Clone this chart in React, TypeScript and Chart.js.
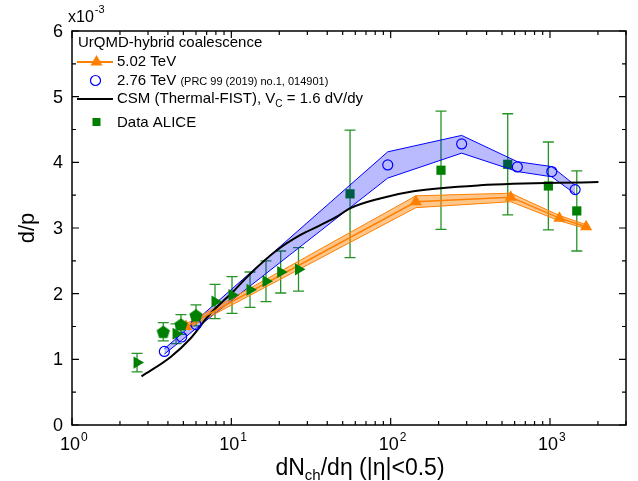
import React, { useEffect, useRef } from 'react';
import { Chart, registerables } from 'chart.js';

Chart.register(...registerables);

const FONT = '"Liberation Sans", Arial, Helvetica, sans-serif';

// ---- ALICE data ----
const ppX = [2.56, 4.5, 7.9, 10.1, 13.1, 16.5, 20.4, 26.4];
const ppY = [0.95, 1.39, 1.88, 1.98, 2.06, 2.19, 2.33, 2.37];
const ppErr = [0.14, 0.15, 0.26, 0.28, 0.27, 0.31, 0.32, 0.33];

const pPbX = [3.74, 4.83, 6.0];
const pPbY = [1.42, 1.53, 1.67];
const pPbErr = [0.14, 0.15, 0.16];

const PbPbX = [55.6, 207, 543, 977, 1473];
const PbPbY = [3.52, 3.88, 3.97, 3.64, 3.26];
const PbPbErr = [0.97, 0.9, 0.77, 0.67, 0.61];

// ---- UrQMD-hybrid coalescence 5.02 TeV ----
const u502X = [5.2, 144, 567, 1146, 1686];
const u502Y = [1.5, 3.4, 3.47, 3.15, 3.02];
const u502Lo = [1.46, 3.31, 3.4, 3.11, 2.99];
const u502Hi = [1.54, 3.49, 3.53, 3.19, 3.05];

// ---- UrQMD-hybrid coalescence 2.76 TeV ----
const u276X = [3.8, 4.88, 6.0, 95.9, 279, 624, 1026, 1438];
const u276Y = [1.12, 1.34, 1.53, 3.96, 4.28, 3.93, 3.86, 3.585];
const u276Lo = [1.08, 1.29, 1.47, 3.76, 4.14, 3.86, 3.78, 3.52];
const u276Hi = [1.16, 1.39, 1.59, 4.16, 4.41, 4.01, 3.935, 3.65];

// ---- CSM (Thermal-FIST) ----
const csmX = [2.73, 4.18, 5.5, 7.35, 10.25, 13.1, 19.3, 27, 36, 45, 55.6, 85.8, 139, 364, 2014];
const csmY = [0.74, 1.04, 1.31, 1.69, 2.03, 2.3, 2.66, 2.89, 3.04, 3.16, 3.3, 3.45, 3.56, 3.65, 3.7];

// ---- axes ----
const yTickValues = [0, 1, 2, 3, 4, 5, 6];
const xDecades = [0, 1, 2, 3];

const GREEN = 'rgb(0,128,0)';
const ORANGE = 'rgb(255,128,0)';
const BLUE = 'rgb(0,0,255)';

const pts = (xs: number[], ys: number[]) => xs.map((x, i) => ({ x, y: ys[i] }));

function makePentagon(r: number, color: string) {
  const size = Math.ceil(r * 2 + 2);
  const c = document.createElement('canvas');
  c.width = size;
  c.height = size;
  const g = c.getContext('2d')!;
  g.fillStyle = color;
  g.beginPath();
  for (let i = 0; i < 5; i++) {
    const a = -Math.PI / 2 + (i * 2 * Math.PI) / 5;
    const px = size / 2 + r * Math.cos(a);
    const py = size / 2 + r * Math.sin(a) + r * 0.1;
    if (i === 0) g.moveTo(px, py);
    else g.lineTo(px, py);
  }
  g.closePath();
  g.fill();
  return c;
}

function drawTriangle(ctx: CanvasRenderingContext2D, x: number, y: number, r: number, rotDeg: number) {
  let rad = (rotDeg * Math.PI) / 180;
  ctx.beginPath();
  for (let i = 0; i < 3; i++) {
    const px = x + Math.sin(rad) * r;
    const py = y - Math.cos(rad) * r;
    if (i === 0) ctx.moveTo(px, py);
    else ctx.lineTo(px, py);
    rad += (2 * Math.PI) / 3;
  }
  ctx.closePath();
  ctx.fill();
}

const errorBarPlugin = {
  id: 'errorBars',
  beforeDatasetsDraw(chart: any) {
    const ctx: CanvasRenderingContext2D = chart.ctx;
    const xs = chart.scales.x;
    const ys = chart.scales.y;
    ctx.save();
    ctx.strokeStyle = 'rgba(0,128,0,0.85)';
    ctx.lineWidth = 1.3;
    const groups: [number[], number[], number[]][] = [
      [ppX, ppY, ppErr],
      [pPbX, pPbY, pPbErr],
      [PbPbX, PbPbY, PbPbErr],
    ];
    const cap = 5.5;
    groups.forEach(([gx, gy, ge]) => {
      gx.forEach((xv, i) => {
        const px = xs.getPixelForValue(xv);
        const y1 = ys.getPixelForValue(gy[i] + ge[i]);
        const y2 = ys.getPixelForValue(gy[i] - ge[i]);
        ctx.beginPath();
        ctx.moveTo(px, y1);
        ctx.lineTo(px, y2);
        ctx.moveTo(px - cap, y1);
        ctx.lineTo(px + cap, y1);
        ctx.moveTo(px - cap, y2);
        ctx.lineTo(px + cap, y2);
        ctx.stroke();
      });
    });
    ctx.restore();
  },
};

const decorPlugin = {
  id: 'decor',
  afterDraw(chart: any) {
    const ctx: CanvasRenderingContext2D = chart.ctx;
    const xs = chart.scales.x;
    const ys = chart.scales.y;
    const { left, right, top, bottom } = chart.chartArea;
    ctx.save();

    // frame
    ctx.strokeStyle = '#000';
    ctx.lineWidth = 1.5;
    ctx.strokeRect(left, top, right - left, bottom - top);

    // ticks
    ctx.lineWidth = 1.2;
    ctx.beginPath();
    xDecades.forEach((d) => {
      for (let m = 1; m <= 9; m++) {
        const v = m * Math.pow(10, d);
        if (v > 3000) break;
        const px = xs.getPixelForValue(v);
        const len = m === 1 ? 7 : 4;
        ctx.moveTo(px, bottom);
        ctx.lineTo(px, bottom - len);
        ctx.moveTo(px, top);
        ctx.lineTo(px, top + len);
      }
    });
    for (let v = 0; v <= 6; v += 0.5) {
      const py = ys.getPixelForValue(v);
      const len = Number.isInteger(v) ? 7 : 4;
      ctx.moveTo(left, py);
      ctx.lineTo(left + len, py);
      ctx.moveTo(right, py);
      ctx.lineTo(right - len, py);
    }
    ctx.stroke();

    ctx.fillStyle = '#000';
    // y tick labels
    ctx.font = `18px ${FONT}`;
    ctx.textAlign = 'right';
    ctx.textBaseline = 'middle';
    yTickValues.forEach((v) => {
      ctx.fillText(String(v), left - 9, ys.getPixelForValue(v) + 1);
    });

    // x tick labels 10^n
    ctx.textBaseline = 'alphabetic';
    ctx.textAlign = 'left';
    xDecades.forEach((d) => {
      const px = xs.getPixelForValue(Math.pow(10, d));
      ctx.font = `18px ${FONT}`;
      const w = ctx.measureText('10').width;
      const x0 = px - w / 2 - 2;
      ctx.fillText('10', x0, bottom + 25);
      ctx.font = `12px ${FONT}`;
      ctx.fillText(String(d), x0 + w + 1, bottom + 16);
    });

    // x10^-3
    ctx.font = `16px ${FONT}`;
    ctx.fillText('x10', 68, 22);
    const wx = ctx.measureText('x10').width;
    ctx.font = `11px ${FONT}`;
    ctx.fillText('-3', 68 + wx + 1, 13);

    // x title
    const parts: [string, number, number][] = [
      ['dN', 23, 0],
      ['ch', 15, 5],
      ['/dη (|η|<0.5)', 23, 0],
    ];
    let total = 0;
    parts.forEach(([t, s]) => {
      ctx.font = `${s}px ${FONT}`;
      total += ctx.measureText(t).width;
    });
    let cx = 360 - total / 2;
    const tb = 475;
    parts.forEach(([t, s, dy]) => {
      ctx.font = `${s}px ${FONT}`;
      ctx.fillText(t, cx, tb + dy);
      cx += ctx.measureText(t).width;
    });

    // y title
    ctx.save();
    ctx.translate(28, (top + bottom) / 2);
    ctx.rotate(-Math.PI / 2);
    ctx.font = `22px ${FONT}`;
    ctx.textAlign = 'center';
    ctx.textBaseline = 'middle';
    ctx.fillText('d/p', 0, 0);
    ctx.restore();

    // legend
    ctx.textAlign = 'left';
    ctx.textBaseline = 'alphabetic';
    ctx.font = `15px ${FONT}`;
    ctx.fillText('UrQMD-hybrid coalescence', 78, 47);

    // 5.02 TeV
    ctx.strokeStyle = ORANGE;
    ctx.lineWidth = 2;
    ctx.beginPath();
    ctx.moveTo(77, 62);
    ctx.lineTo(113, 62);
    ctx.stroke();
    ctx.fillStyle = ORANGE;
    drawTriangle(ctx, 96.5, 62, 7, 0);
    ctx.fillStyle = '#000';
    ctx.fillText('5.02 TeV', 117, 66);

    // 2.76 TeV
    ctx.strokeStyle = BLUE;
    ctx.lineWidth = 1.2;
    ctx.beginPath();
    ctx.arc(95.5, 80.5, 5, 0, Math.PI * 2);
    ctx.stroke();
    ctx.font = `15px ${FONT}`;
    ctx.fillText('2.76 TeV', 117, 85);
    const w276 = ctx.measureText('2.76 TeV ').width;
    ctx.font = `11px ${FONT}`;
    ctx.fillText('(PRC 99 (2019) no.1, 014901)', 117 + w276, 85);

    // CSM
    ctx.strokeStyle = '#000';
    ctx.lineWidth = 2;
    ctx.beginPath();
    ctx.moveTo(77, 99);
    ctx.lineTo(113, 99);
    ctx.stroke();
    ctx.font = `15px ${FONT}`;
    let lx = 117;
    ctx.fillText('CSM (Thermal-FIST), V', lx, 103);
    lx += ctx.measureText('CSM (Thermal-FIST), V').width;
    ctx.font = `10px ${FONT}`;
    ctx.fillText('C', lx, 107);
    lx += ctx.measureText('C').width;
    ctx.font = `15px ${FONT}`;
    ctx.fillText(' = 1.6 dV/dy', lx, 103);

    // Data ALICE
    ctx.fillStyle = GREEN;
    ctx.fillRect(92.5, 118, 8, 8);
    ctx.fillStyle = '#000';
    ctx.fillText('Data ALICE', 117, 127);

    ctx.restore();
  },
};

export default function App() {
  const ref = useRef<HTMLCanvasElement | null>(null);

  useEffect(() => {
    if (!ref.current) return;
    const pentagon = makePentagon(7, GREEN);
    const chart = new Chart(ref.current, {
      type: 'line',
      data: {
        datasets: [
          // 0: ALICE pp (right triangles) - on top
          {
            data: pts(ppX, ppY),
            showLine: false,
            pointStyle: 'triangle',
            pointRotation: 90,
            pointRadius: 7,
            pointBorderWidth: 0,
            pointBackgroundColor: GREEN,
            order: 0,
          } as any,
          // 1: ALICE p-Pb (pentagons)
          {
            data: pts(pPbX, pPbY),
            showLine: false,
            pointStyle: pentagon,
            pointRadius: 7,
            order: 0,
          } as any,
          // 2: orange center line + triangles
          {
            data: pts(u502X, u502Y),
            borderColor: ORANGE,
            borderWidth: 1.5,
            backgroundColor: ORANGE,
            pointStyle: 'triangle',
            pointRadius: 7,
            pointBorderWidth: 0,
            pointBackgroundColor: ORANGE,
            fill: false,
            order: 1,
          } as any,
          // 3: blue circles
          {
            data: pts(u276X, u276Y),
            showLine: false,
            pointStyle: 'circle',
            pointRadius: 5,
            pointBorderWidth: 1.2,
            pointBorderColor: BLUE,
            pointBackgroundColor: 'rgba(0,0,0,0)',
            fill: false,
            order: 2,
          } as any,
          // 4: CSM line
          {
            data: pts(csmX, csmY),
            borderColor: '#000',
            borderWidth: 2,
            pointRadius: 0,
            cubicInterpolationMode: 'monotone',
            fill: false,
            order: 3,
          } as any,
          // 5: orange band low
          {
            data: pts(u502X, u502Lo),
            borderColor: ORANGE,
            borderWidth: 1,
            pointRadius: 0,
            fill: false,
            order: 4,
          } as any,
          // 6: orange band high
          {
            data: pts(u502X, u502Hi),
            borderColor: ORANGE,
            borderWidth: 1,
            pointRadius: 0,
            fill: '-1',
            backgroundColor: 'rgba(255,128,0,0.45)',
            order: 4,
          } as any,
          // 7: blue band low
          {
            data: pts(u276X, u276Lo),
            borderColor: BLUE,
            borderWidth: 1,
            pointRadius: 0,
            fill: false,
            order: 5,
          } as any,
          // 8: blue band high
          {
            data: pts(u276X, u276Hi),
            borderColor: BLUE,
            borderWidth: 1,
            pointRadius: 0,
            fill: '-1',
            backgroundColor: 'rgba(0,0,255,0.27)',
            order: 5,
          } as any,
          // 9: ALICE Pb-Pb (squares) - under bands
          {
            data: pts(PbPbX, PbPbY),
            showLine: false,
            pointStyle: 'rect',
            pointRadius: 6.5,
            pointBorderWidth: 0,
            pointBackgroundColor: GREEN,
            order: 10,
          } as any,
        ],
      },
      options: {
        responsive: false,
        animation: false,
        devicePixelRatio: 1,
        layout: { padding: { left: 0, right: 12, top: 31, bottom: 0 } },
        plugins: {
          legend: { display: false },
          tooltip: { enabled: false },
        },
        scales: {
          x: {
            type: 'logarithmic',
            min: 1,
            max: 3000,
            grid: { display: false },
            border: { display: false },
            ticks: { display: false },
            afterFit: (s: any) => {
              s.height = 481 - 425;
            },
          },
          y: {
            type: 'linear',
            min: 0,
            max: 6,
            grid: { display: false },
            border: { display: false },
            ticks: { display: false },
            afterFit: (s: any) => {
              s.width = 72;
            },
          },
        },
      } as any,
      plugins: [errorBarPlugin, decorPlugin],
    });
    return () => chart.destroy();
  }, []);

  return (
    <div style={{ position: 'absolute', left: 0, top: 0, width: 638, height: 481, background: '#fff' }}>
      <canvas ref={ref} width={638} height={481} style={{ width: 638, height: 481, display: 'block' }} />
    </div>
  );
}
